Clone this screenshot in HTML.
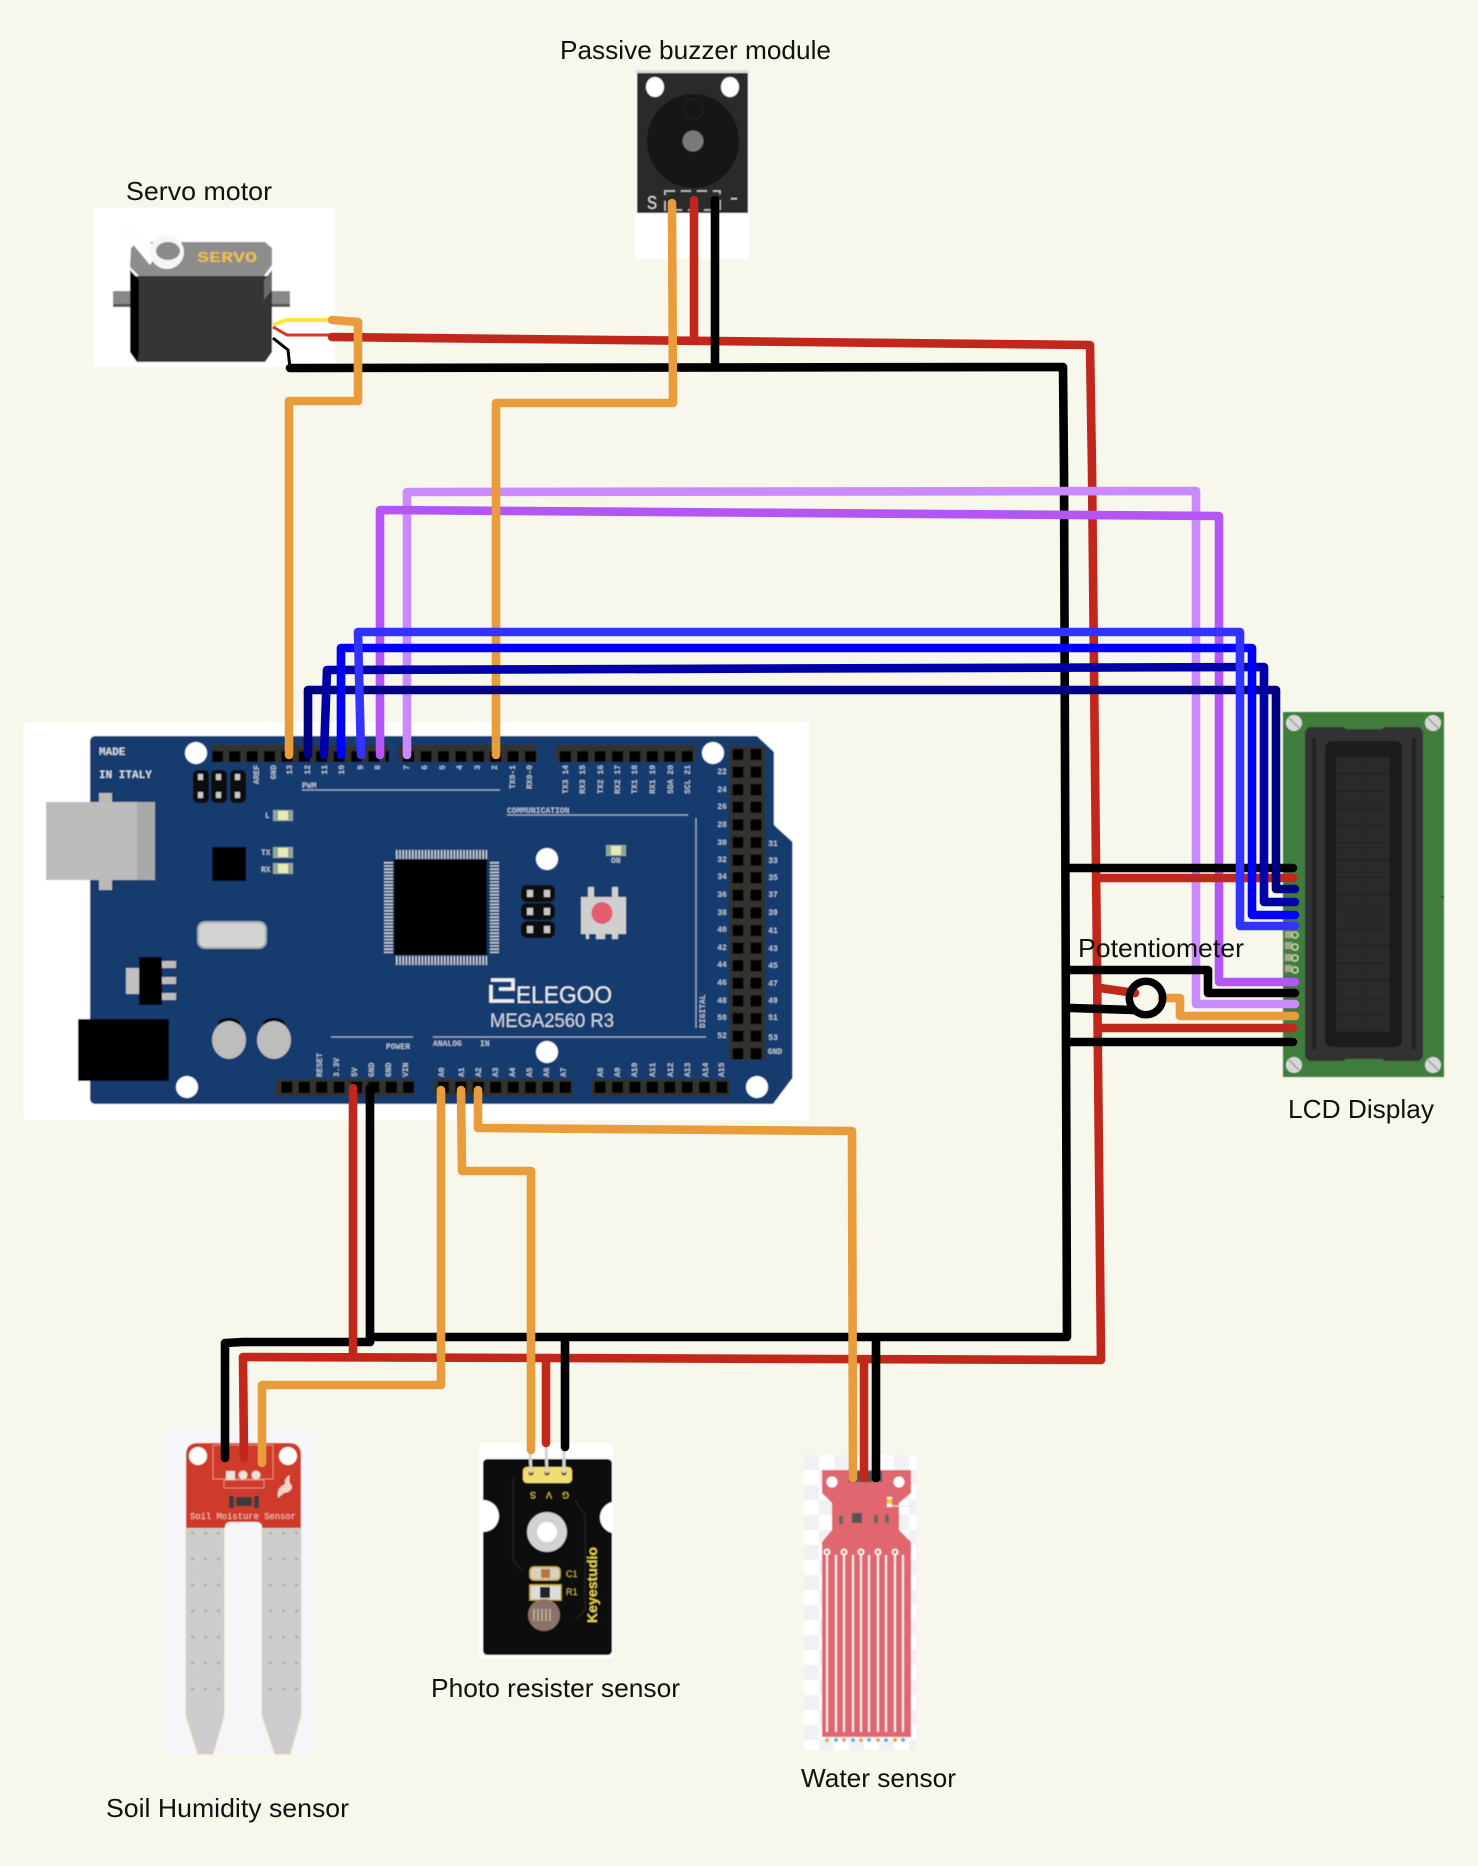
<!DOCTYPE html>
<html><head><meta charset="utf-8"><title>Wiring diagram</title>
<style>html,body{margin:0;padding:0;background:#f8f7eb}svg{display:block}
text{font-family:"Liberation Sans",sans-serif}
.m{font-family:"Liberation Mono",monospace;font-weight:bold;fill:#b4c2d2;font-size:8px}
.w{fill:none;stroke-width:8.600;stroke-linecap:round;stroke-linejoin:round}
.l{fill:#111;font-size:26px}
</style></head><body>
<svg width="1478" height="1866" viewBox="0 0 1478 1866" xmlns="http://www.w3.org/2000/svg">
<defs>
<pattern id="hp" x="0" y="0" width="17.4" height="17.4" patternUnits="userSpaceOnUse"><rect width="17.4" height="17.4" fill="#33322f"/><rect x="3" y="3" width="11" height="11" fill="#000"/></pattern>
<pattern id="hr" x="729" y="746" width="18" height="17.6" patternUnits="userSpaceOnUse"><rect width="18" height="17.6" fill="#33322f"/><rect x="3.5" y="3" width="11" height="11" fill="#000"/></pattern>
<pattern id="chk" x="804" y="1455" width="30" height="30" patternUnits="userSpaceOnUse"><rect width="30" height="30" fill="#fff"/><rect width="15" height="15" fill="#f1f1f3"/><rect x="15" y="15" width="15" height="15" fill="#f1f1f3"/></pattern>
<pattern id="cell" x="1336" y="757" width="27" height="17.2" patternUnits="userSpaceOnUse"><rect width="27" height="17.2" fill="#2a2a2a"/><rect y="16.4" width="27" height=".8" fill="#1c1c1c"/><rect x="26.4" width=".6" height="17.2" fill="#1c1c1c"/></pattern>
<pattern id="dots" x="186" y="1528" width="13" height="26" patternUnits="userSpaceOnUse"><circle cx="6.5" cy="5" r="1.6" fill="#b0b0b0"/></pattern>
<filter id="b" x="-5%" y="-5%" width="110%" height="110%"><feGaussianBlur stdDeviation="0.5"/></filter>
</defs>
<rect width="1478" height="1866" fill="#f8f7eb"/>

<g filter="url(#b)">
<!-- Board -->
<rect x="24" y="722" width="785" height="398" fill="#fff"/>
<path d="M96 736H757L774 752V825L792.5 842V1078L773 1104H96Q90 1104 90 1098V742Q90 736 96 736Z" fill="#173a6e"/>
<rect x="99" y="793" width="13" height="97" fill="#b9b9b9"/>
<rect x="46" y="802" width="91" height="78" fill="#bcbcbc"/><rect x="137" y="802" width="18" height="78" fill="#a9a9a9"/>
<rect x="78" y="1019" width="91" height="62" fill="#000"/>
<ellipse cx="229" cy="1024" rx="11" ry="6" fill="#000"/><ellipse cx="274" cy="1024" rx="11" ry="6" fill="#000"/>
<ellipse cx="229" cy="1040" rx="17" ry="19" fill="#bdbdbd"/><ellipse cx="274" cy="1040" rx="17" ry="19" fill="#bdbdbd"/>
<rect x="198" y="922" width="68" height="26" rx="7" fill="#d2d2d2" stroke="#9ea6ad" stroke-width="2"/>
<rect x="126" y="968" width="13" height="26" fill="#c0c0c0"/>
<rect x="139" y="957" width="23" height="48" fill="#000"/>
<rect x="162" y="961" width="14" height="7" fill="#bdbdbd"/><rect x="162" y="977" width="14" height="7" fill="#bdbdbd"/><rect x="162" y="993" width="14" height="7" fill="#bdbdbd"/>
<rect x="212" y="847" width="34" height="34" fill="#000"/>
<!-- ICSP -->
<rect x="193" y="770" width="16" height="33" rx="5" fill="#0b0b0b"/><rect x="211" y="770" width="16" height="33" rx="5" fill="#0b0b0b"/><rect x="230" y="770" width="16" height="33" rx="5" fill="#0b0b0b"/>
<g fill="#c8c8c8"><rect x="198" y="774" width="5" height="6"/><rect x="216" y="774" width="5" height="6"/><rect x="235" y="774" width="5" height="6"/><rect x="198" y="792" width="5" height="6"/><rect x="216" y="792" width="5" height="6"/><rect x="235" y="792" width="5" height="6"/></g>
<rect x="521" y="885" width="34" height="17" rx="6" fill="#0b0b0b"/><rect x="521" y="903" width="34" height="17" rx="6" fill="#0b0b0b"/><rect x="521" y="921" width="34" height="17" rx="6" fill="#0b0b0b"/>
<g fill="#c8c8c8"><rect x="527" y="890" width="6" height="7"/><rect x="544" y="890" width="6" height="7"/><rect x="527" y="908" width="6" height="7"/><rect x="544" y="908" width="6" height="7"/><rect x="527" y="926" width="6" height="7"/><rect x="544" y="926" width="6" height="7"/></g>
<!-- LEDs -->
<g fill="#8fa69a"><rect x="273" y="810" width="20" height="11"/><rect x="273" y="847" width="20" height="11"/><rect x="273" y="863" width="20" height="11"/><rect x="606" y="845" width="20" height="11"/></g>
<g fill="#e6ecb8"><rect x="278" y="811" width="10" height="9"/><rect x="278" y="848" width="10" height="9"/><rect x="278" y="864" width="10" height="9"/><rect x="611" y="846" width="10" height="9"/></g>
<text class="m" x="265" y="818">L</text><text class="m" x="261" y="855">TX</text><text class="m" x="261" y="872">RX</text><text class="m" x="611" y="863">ON</text>
<!-- Chip -->
<rect x="394" y="859" width="93" height="96" fill="#000"/>
<g stroke="#c8ccd2" fill="none" stroke-dasharray="1.6 1.6">
<path d="M396 854.5H487M396 960.5H487" stroke-width="9"/>
<path d="M388.500 862V953M494.500 862V953" stroke-width="9"/></g>
<!-- Reset -->
<path d="M581 897H588V887H594V897H612V887H618V897H626V934H618V939H612V934H605V939H596V934H589V939H586V934H581Z" fill="#cfcfcf"/>
<ellipse cx="602" cy="913" rx="10.500" ry="11" fill="#e55b6e"/>
<!-- holes -->
<g fill="#fff"><circle cx="196" cy="753" r="11"/><circle cx="713" cy="753" r="11"/><circle cx="187" cy="1087" r="11"/><circle cx="757" cy="1087" r="11"/><circle cx="547" cy="859" r="11"/><circle cx="547" cy="1052" r="11"/></g>
<!-- headers -->
<rect x="212" y="745" width="177" height="17" fill="url(#hp)"/>
<rect x="398" y="745" width="139" height="17" fill="url(#hp)"/>
<rect x="556" y="745" width="139" height="17" fill="url(#hp)"/>
<rect x="275" y="1079" width="139" height="17" fill="url(#hp)"/>
<rect x="433" y="1079" width="139" height="17" fill="url(#hp)"/>
<rect x="591" y="1079" width="139" height="17" fill="url(#hp)"/>
<rect x="729" y="746" width="36" height="314" fill="url(#hr)"/>
<!-- silk lines -->
<g stroke="#9fb2c9" stroke-width="1.200" fill="none"><path d="M302 790H500M507 815H688M696 818V1028M331 1037H413M433 1037H706"/></g>
<text class="m" x="99" y="755" style="font-size:11px;fill:#d4dbe4">MADE</text>
<text class="m" x="99" y="778" style="font-size:11px;fill:#d4dbe4">IN ITALY</text>
<text class="m" x="302" y="788">PWM</text><text class="m" x="507" y="813">COMMUNICATION</text>
<text class="m" x="386" y="1049">POWER</text><text class="m" x="433" y="1046">ANALOG</text><text class="m" x="480" y="1046">IN</text>
<text class="m" transform="translate(705,1028) rotate(-90)">DIGITAL</text>
<!-- top pin labels -->
<g text-anchor="end">
<text class="m" transform="translate(259,765) rotate(-90)">AREF</text><text class="m" transform="translate(276,765) rotate(-90)">GND</text><text class="m" transform="translate(292,765) rotate(-90)">13</text><text class="m" transform="translate(310,765) rotate(-90)">12</text><text class="m" transform="translate(327,765) rotate(-90)">11</text><text class="m" transform="translate(344,765) rotate(-90)">10</text><text class="m" transform="translate(363,765) rotate(-90)">9</text><text class="m" transform="translate(380,765) rotate(-90)">8</text><text class="m" transform="translate(409,765) rotate(-90)">7</text><text class="m" transform="translate(427,765) rotate(-90)">6</text><text class="m" transform="translate(445,765) rotate(-90)">5</text><text class="m" transform="translate(462,765) rotate(-90)">4</text><text class="m" transform="translate(480,765) rotate(-90)">3</text><text class="m" transform="translate(497,765) rotate(-90)">2</text><text class="m" transform="translate(515,765) rotate(-90)">TX0-1</text><text class="m" transform="translate(532,765) rotate(-90)">RX0-0</text><text class="m" transform="translate(568,765) rotate(-90)">TX3 14</text><text class="m" transform="translate(585,765) rotate(-90)">RX3 15</text><text class="m" transform="translate(603,765) rotate(-90)">TX2 16</text><text class="m" transform="translate(620,765) rotate(-90)">RX2 17</text><text class="m" transform="translate(637,765) rotate(-90)">TX1 18</text><text class="m" transform="translate(655,765) rotate(-90)">RX1 19</text><text class="m" transform="translate(673,765) rotate(-90)">SDA 20</text><text class="m" transform="translate(690,765) rotate(-90)">SCL 21</text>
</g>
<!-- bottom pin labels -->
<g>
<text class="m" transform="translate(322,1077) rotate(-90)">RESET</text><text class="m" transform="translate(339,1077) rotate(-90)">3.3V</text><text class="m" transform="translate(357,1077) rotate(-90)">5V</text><text class="m" transform="translate(374,1077) rotate(-90)">GND</text><text class="m" transform="translate(391,1077) rotate(-90)">GND</text><text class="m" transform="translate(408,1077) rotate(-90)">VIN</text><text class="m" transform="translate(444,1077) rotate(-90)">A0</text><text class="m" transform="translate(464,1077) rotate(-90)">A1</text><text class="m" transform="translate(481,1077) rotate(-90)">A2</text><text class="m" transform="translate(498,1077) rotate(-90)">A3</text><text class="m" transform="translate(515,1077) rotate(-90)">A4</text><text class="m" transform="translate(532,1077) rotate(-90)">A5</text><text class="m" transform="translate(549,1077) rotate(-90)">A6</text><text class="m" transform="translate(566,1077) rotate(-90)">A7</text><text class="m" transform="translate(603,1077) rotate(-90)">A8</text><text class="m" transform="translate(620,1077) rotate(-90)">A9</text><text class="m" transform="translate(637,1077) rotate(-90)">A10</text><text class="m" transform="translate(655,1077) rotate(-90)">A11</text><text class="m" transform="translate(673,1077) rotate(-90)">A12</text><text class="m" transform="translate(690,1077) rotate(-90)">A13</text><text class="m" transform="translate(708,1077) rotate(-90)">A14</text><text class="m" transform="translate(724,1077) rotate(-90)">A15</text>
</g>
<g text-anchor="middle">
<text class="m" x="722" y="774">22</text><text class="m" x="722" y="792">24</text><text class="m" x="722" y="809">26</text><text class="m" x="722" y="827">28</text><text class="m" x="722" y="845">30</text><text class="m" x="722" y="862">32</text><text class="m" x="722" y="879">34</text><text class="m" x="722" y="897">36</text><text class="m" x="722" y="915">38</text><text class="m" x="722" y="932">40</text><text class="m" x="722" y="950">42</text><text class="m" x="722" y="967">44</text><text class="m" x="722" y="985">46</text><text class="m" x="722" y="1003">48</text><text class="m" x="722" y="1020">50</text><text class="m" x="722" y="1038">52</text>
<text class="m" x="773" y="846">31</text><text class="m" x="773" y="863">33</text><text class="m" x="773" y="880">35</text><text class="m" x="773" y="897">37</text><text class="m" x="773" y="915">39</text><text class="m" x="773" y="933">41</text><text class="m" x="773" y="951">43</text><text class="m" x="773" y="968">45</text><text class="m" x="773" y="986">47</text><text class="m" x="773" y="1003">49</text><text class="m" x="773" y="1020">51</text><text class="m" x="773" y="1040">53</text><text class="m" x="775" y="1054">GND</text>
</g>
<!-- logo -->
<path d="M491 980H513V989H499M491 985V1001H514" fill="none" stroke="#eef1f3" stroke-width="3.500"/>
<text x="516" y="1003" font-size="24" fill="#e8ecef" textLength="96" lengthAdjust="spacingAndGlyphs">ELEGOO</text>
<text x="490" y="1027" font-size="19" fill="#cfd8e2" textLength="124" lengthAdjust="spacingAndGlyphs">MEGA2560  R3</text>

<!-- Servo -->
<rect x="94" y="208" width="241" height="159" fill="#fff"/>
<rect x="113" y="291" width="177" height="16" fill="#888"/><rect x="113" y="304" width="177" height="3" fill="#555"/>
<path d="M130 276H272V352L265 362H137L130 352Z" fill="#343434"/>
<path d="M130 270L139 280V352L137 362L130 352Z" fill="#000"/>
<path d="M272 270L264 280V300L272 290Z" fill="#6a6a6a"/>
<path d="M131 248L137 242H265L272 248V265L264 276H139L130 267Z" fill="#8d8d8d"/>
<path d="M121 230L128 225L160 250L150 265Z" fill="#fdfdfd"/>
<circle cx="167" cy="252" r="17" fill="#f6f6f6"/><ellipse cx="168" cy="251" rx="12" ry="9" fill="#8a8a8a"/>
<text x="197" y="262" font-size="15" font-weight="bold" fill="#ecc04a" style="font-family:'Liberation Mono',monospace" textLength="60" lengthAdjust="spacingAndGlyphs">SERVO</text>

<!-- Buzzer -->
<rect x="635" y="70" width="114" height="189" fill="#fff"/>
<rect x="635" y="70" width="114" height="3" fill="#ddd"/>
<rect x="637" y="73" width="111" height="140" fill="#2b2b2b"/>
<ellipse cx="655" cy="87" rx="9" ry="10" fill="#fff"/><ellipse cx="730" cy="87" rx="9" ry="10" fill="#fff"/>
<ellipse cx="693" cy="141" rx="46" ry="47" fill="#151515"/>
<circle cx="693" cy="109" r="10" fill="none" stroke="#202020" stroke-width="1.500"/>
<ellipse cx="693" cy="141" rx="10.500" ry="10.500" fill="#7a7a7a"/>
<rect x="665" y="191" width="55" height="19" fill="none" stroke="#ccc" stroke-width="1.500" stroke-dasharray="10 6"/>
<text x="647" y="209" font-size="18" fill="#ddd" textLength="10" lengthAdjust="spacingAndGlyphs">S</text><rect x="731" y="198" width="6" height="1.500" fill="#ccc"/>

<!-- LCD -->
<rect x="1283" y="712" width="161" height="365" fill="#3f7d3d"/>
<path d="M1305 731L1309 727H1343L1346 729H1382L1385 727H1419L1423 731V1057L1419 1061H1385L1382 1059H1346L1343 1061H1309L1305 1057Z" fill="#333"/>
<rect x="1312" y="738" width="4" height="311" fill="#222"/><rect x="1412" y="738" width="4" height="311" fill="#222"/>
<rect x="1325" y="741" width="77" height="306" rx="7" fill="#1c1c1c"/>
<rect x="1336" y="757" width="54" height="275" fill="url(#cell)"/>
<g fill="#d8d8d8"><circle cx="1294" cy="723" r="8"/><circle cx="1433" cy="723" r="8"/><circle cx="1294" cy="1065" r="8"/><circle cx="1433" cy="1065" r="8"/></g>
<g stroke="#9a9a9a" stroke-width="1.500"><path d="M1289 718L1299 728M1428 718L1438 728M1289 1060L1299 1070M1428 1060L1438 1070"/></g>
<g><rect x="1285" y="931" width="7" height="7" fill="#a9a88c"/><rect x="1285" y="942" width="7" height="7" fill="#a9a88c"/><rect x="1285" y="954" width="7" height="7" fill="#a9a88c"/><rect x="1285" y="965" width="7" height="7" fill="#a9a88c"/>
<g fill="#3f7d3d" stroke="#c6d6a8" stroke-width="1.500"><circle cx="1295" cy="935" r="3"/><circle cx="1295" cy="947" r="3"/><circle cx="1295" cy="958" r="3"/><circle cx="1295" cy="970" r="3"/></g></g>
<rect x="1441" y="896" width="3" height="1.500" fill="#222"/>

<!-- Soil -->
<rect x="163" y="1428" width="153" height="327" fill="#f6f6f8"/>
<path d="M186 1528H224V1715L213 1754H198L186 1715Z" fill="#cdcdcd" stroke="#eccfa8"/>
<path d="M262 1528H301V1715L290 1754H275L262 1715Z" fill="#cdcdcd" stroke="#eccfa8"/>
<rect x="186" y="1528" width="38" height="185" fill="url(#dots)"/>
<rect x="262" y="1528" width="39" height="185" fill="url(#dots)"/>
<path d="M186 1528V1455Q186 1443 198 1443H289Q301 1443 301 1455V1528H262V1527Q262 1522 256 1522H231Q225 1522 225 1527V1528Z" fill="#cf3a2c"/>
<circle cx="198" cy="1456" r="9" fill="#fff"/><circle cx="288" cy="1456" r="9" fill="#fff"/>
<rect x="213" y="1445" width="60" height="34" fill="none" stroke="#e58a7a" stroke-width="1"/>
<rect x="224" y="1480" width="40" height="8" fill="none" stroke="#e58a7a" stroke-width="1"/>
<g fill="#e9e3d8"><rect x="226" y="1471" width="9" height="9"/><circle cx="243" cy="1475" r="4.500"/><circle cx="256" cy="1475" r="4.500"/></g>
<rect x="236" y="1497" width="16" height="9" fill="#3a3a3a"/><rect x="229" y="1496" width="5" height="12" fill="#3a3a3a"/><rect x="254" y="1496" width="5" height="12" fill="#3a3a3a"/>
<path d="M278 1498Q276 1488 285 1484Q284 1478 290 1475Q288 1482 292 1486Q292 1492 284 1493Z" fill="#f2d4c8"/>
<text x="190" y="1519" font-size="9" fill="#f2c9bb" style="font-family:'Liberation Mono',monospace" textLength="106" lengthAdjust="spacingAndGlyphs">Soil Moisture Sensor</text>

<!-- Photo -->
<rect x="479" y="1443" width="134" height="215" fill="#fff"/>
<path d="M488 1459H607Q612 1459 612 1464V1502A16 16 0 0 0 612 1533V1650Q612 1655 607 1655H488Q483 1655 483 1650V1532A16 16 0 0 0 483 1500V1464Q483 1459 488 1459Z" fill="#0b0b0b"/>
<path d="M513 1478V1560L522 1570M575 1500L585 1515V1610L575 1620" fill="none" stroke="#1e1e1e" stroke-width="2"/>
<rect x="523" y="1467" width="49" height="16" rx="4" fill="#f0dc70"/>
<g fill="#4a4630"><circle cx="531" cy="1473" r="2.500"/><circle cx="547" cy="1473" r="2.500"/><circle cx="564" cy="1473" r="2.500"/></g>
<path d="M530 1450L531 1473M546 1446L547 1473M564 1448V1473" stroke="#d5d5d5" stroke-width="3"/>
<text transform="translate(536,1492) rotate(180)" font-size="9" fill="#e0cc50">S</text><text transform="translate(552,1492) rotate(180)" font-size="9" fill="#e0cc50">V</text><text transform="translate(569,1492) rotate(180)" font-size="9" fill="#e0cc50">G</text>
<circle cx="547" cy="1532" r="20" fill="#d2d2d2"/><circle cx="547" cy="1532" r="10" fill="#fff"/>
<rect x="530" y="1567" width="30" height="13" rx="4" fill="#d8d0c0" stroke="#c8b040" stroke-width="1.500"/><rect x="541" y="1569" width="9" height="9" fill="#b8763c"/>
<rect x="530" y="1585" width="31" height="15" fill="#ddd" stroke="#c8b040" stroke-width="1.500"/><rect x="540" y="1587" width="10" height="11" fill="#222"/>
<circle cx="544" cy="1615" r="16" fill="#8b7168"/>
<path d="M534 1609V1621M538 1609V1621M542 1609V1621M546 1609V1621M550 1609V1621" stroke="#c4b0a0" stroke-width="1.500"/>
<text x="566" y="1577" font-size="9" fill="#c0b050">C1</text><text x="566" y="1595" font-size="9" fill="#c0b050">R1</text>
<text transform="translate(597,1623) rotate(-90)" font-size="13.500" font-weight="bold" fill="#e2cf50" textLength="76" lengthAdjust="spacingAndGlyphs">Keyestudio</text>

<!-- Water -->
<rect x="804" y="1455" width="112" height="295" fill="url(#chk)"/>
<path d="M822 1470H911V1493L899 1503V1530L911 1542V1737H822V1542L832 1530V1503L822 1493Z" fill="#e06670"/>
<rect x="849" y="1471" width="33" height="11" fill="#555"/>
<circle cx="832" cy="1482" r="5.500" fill="#fff"/><circle cx="899" cy="1482" r="5.500" fill="#fff"/>
<rect x="887" y="1497" width="5" height="10" fill="#fff"/><rect x="887" y="1499" width="5" height="5" fill="#f5d020"/>
<path d="M889 1506H916" stroke="#f0e8e0" stroke-width="1"/>
<rect x="852" y="1513" width="10" height="10" fill="#555"/>
<g fill="#666"><rect x="839" y="1516" width="4" height="8"/><rect x="874" y="1515" width="4" height="8"/><rect x="885" y="1515" width="4" height="8"/></g>
<g stroke="#f6f0ee" stroke-width="2" fill="none"><path d="M827 1555V1732M836 1555V1732M844 1555V1732M853 1555V1732M861 1555V1732M869 1555V1732M878 1555V1732M886 1555V1732M895 1555V1732M903 1555V1732"/>
<circle cx="827" cy="1552" r="2.500"/><circle cx="844" cy="1552" r="2.500"/><circle cx="861" cy="1552" r="2.500"/><circle cx="878" cy="1552" r="2.500"/><circle cx="895" cy="1552" r="2.500"/></g>
<g fill="#e8a33c"><circle cx="827" cy="1740" r="2"/><circle cx="844" cy="1740" r="2"/><circle cx="861" cy="1740" r="2"/><circle cx="878" cy="1740" r="2"/><circle cx="895" cy="1740" r="2"/></g>
<g fill="#5ab0e0"><circle cx="836" cy="1740" r="2"/><circle cx="853" cy="1740" r="2"/><circle cx="869" cy="1740" r="2"/><circle cx="886" cy="1740" r="2"/><circle cx="903" cy="1740" r="2"/></g>
</g>

<!-- servo thin wires -->
<path d="M273 325L287 320H332" fill="none" stroke="#fbe83c" stroke-width="4"/>
<path d="M273 327L287 335H332" fill="none" stroke="#d9342a" stroke-width="3"/>
<path d="M273 338L288 350L290 368" fill="none" stroke="#000" stroke-width="3"/>

<!-- trunks -->
<g>
<path class="w" stroke="#000" d="M290 368L1063 367L1064 470L1067 1337L565 1337L370 1337L370 1342L243 1342L225 1343V1458"/>
<path class="w" stroke="#c1271b" d="M332 337L800 342L1090 345L1092 470L1101 1360L546 1358L243 1357L244 1458"/>
<path class="w" stroke="#c1271b" d="M694 200V340M353 1088V1357M546 1358V1443M864 1360V1478"/>
<path class="w" stroke="#000" d="M715 200V367M370 1088V1342M565 1338V1447M876 1338V1478"/>
<!-- purples -->
<path class="w" stroke="#c98bff" d="M407 755V492L1196 491V1004H1295"/>
<path class="w" stroke="#b455f5" d="M380 755V510L1219 516V982H1295"/>
<!-- branches -->
<path class="w" stroke="#000" d="M1069 868H1293M1069 970H1208V993H1295M1071 1042H1293"/>
<path class="w" stroke="#c1271b" d="M1099 878H1293M1101 1028H1293M1100 988L1135 993"/>
<path class="w" stroke="#000" d="M1071 1008L1133 1010"/>
<path class="w" stroke="#e89c3c" d="M332 320L358 322V401H289V755M672 203L673 403H496V755M441 1090V1385H262V1463M461 1090L462 1171H531L531 1450M478 1090L478 1128L852 1131L853 1478M1162 998H1180V1016H1295"/>
<!-- blues -->
<path class="w" stroke="#000080" d="M308 755V690H1276V889H1295"/>
<path class="w" stroke="#0000a8" d="M324 755L327 670L1264 667V902H1295"/>
<path class="w" stroke="#0000ff" d="M341 755V648H1252V915H1295"/>
<path class="w" stroke="#3333ff" d="M361 755L358 632H1240V926H1295"/>
</g>
<circle cx="1146" cy="998" r="16.700" fill="none" stroke="#000" stroke-width="7.500"/>

<!-- labels -->
<text class="l" x="560" y="59" textLength="271" lengthAdjust="spacingAndGlyphs">Passive buzzer module</text>
<text class="l" x="126" y="200" textLength="146" lengthAdjust="spacingAndGlyphs">Servo motor</text>
<text class="l" x="1078" y="957" textLength="166" lengthAdjust="spacingAndGlyphs">Potentiometer</text>
<text class="l" x="1288" y="1118" textLength="146" lengthAdjust="spacingAndGlyphs">LCD Display</text>
<text class="l" x="431" y="1697" textLength="249" lengthAdjust="spacingAndGlyphs">Photo resister sensor</text>
<text class="l" x="106" y="1817" textLength="243" lengthAdjust="spacingAndGlyphs">Soil Humidity sensor</text>
<text class="l" x="801" y="1787" textLength="155" lengthAdjust="spacingAndGlyphs">Water sensor</text>
</svg>
</body></html>
